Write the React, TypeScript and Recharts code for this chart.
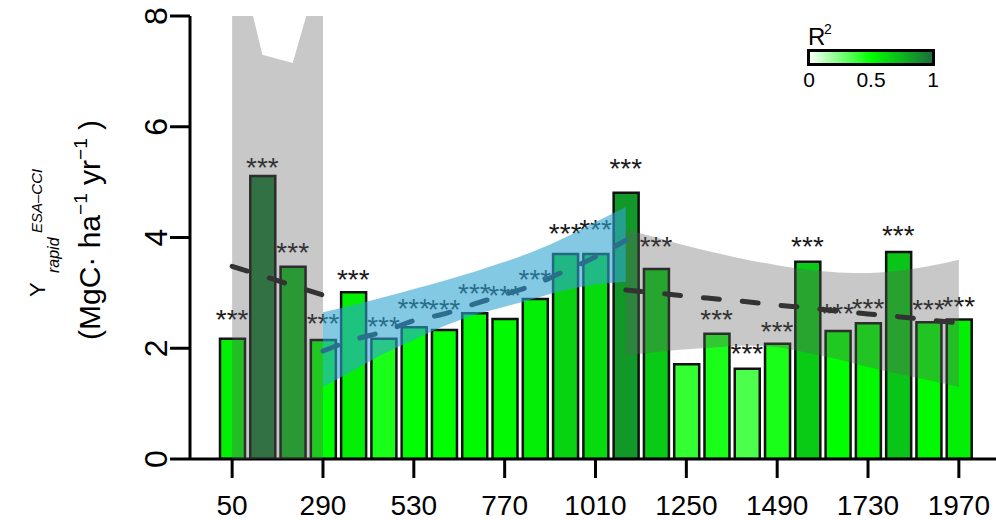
import React from 'react';
import { ComposedChart, Bar, Cell, Area, Line, Scatter, XAxis, YAxis } from 'recharts';

// stand age classes (yr)
const years = [50, 130, 210, 290, 370, 450, 530, 610, 690, 770, 850, 930, 1010, 1090, 1170, 1250, 1330, 1410, 1490, 1570, 1650, 1730, 1810, 1890, 1970];
// Y_rapid (MgC ha-1 yr-1)
const yRapid = [2.17, 5.11, 3.47, 2.15, 3.01, 2.17, 2.38, 2.33, 2.63, 2.53, 2.89, 3.7, 3.7, 4.81, 3.43, 1.71, 2.26, 1.63, 2.08, 3.56, 2.31, 2.45, 3.74, 2.47, 2.52];
// R2 of each fit (bar colour)
const r2 = [0.55, 0.95, 0.75, 0.5, 0.55, 0.45, 0.5, 0.5, 0.52, 0.52, 0.55, 0.65, 0.62, 0.85, 0.68, 0.4, 0.45, 0.35, 0.45, 0.68, 0.5, 0.52, 0.7, 0.52, 0.55];
// height of the *** marks (null = no mark)
const starY = [2.64, 5.38, 3.85, 2.56, 3.36, 2.51, 2.84, 2.82, 3.11, 3.07, 3.36, 4.19, 4.26, 5.36, 3.95, null, 2.64, 2.02, 2.42, 3.95, 2.74, 2.84, 4.15, 2.82, 2.87];

// early segment trend + CI
const earlyYears = [50, 130, 210, 290];
const earlyFit = [3.48, 3.31, 3.13, 2.96];
const earlyLo = [-1, -1, -1, -1];
const earlyHi = [9.55, 7.3, 7.15, 9.05];

// middle segment trend + CI (blue)
const midYears = [290, 370, 450, 530, 610, 690, 770, 850, 930, 1010, 1090];
const midFit = [1.95, 2.15, 2.3, 2.5, 2.62, 2.8, 2.97, 3.15, 3.4, 3.65, 3.95];
const midLo = [1.3, 1.6, 1.9, 2.15, 2.4, 2.6, 2.75, 2.9, 3.05, 3.15, 3.2];
const midHi = [2.65, 2.78, 2.92, 3.07, 3.22, 3.38, 3.56, 3.76, 4.0, 4.28, 4.55];

// late segment trend + CI
const lateYears = [1090, 1170, 1250, 1330, 1410, 1490, 1570, 1650, 1730, 1810, 1890, 1970];
const lateFit = [3.05, 3.0, 2.94, 2.89, 2.84, 2.78, 2.73, 2.67, 2.62, 2.57, 2.51, 2.46];
const lateLo = [1.88, 1.93, 1.98, 2.02, 2.05, 2.02, 1.92, 1.8, 1.66, 1.54, 1.42, 1.3];
const lateHi = [4.15, 4.0, 3.85, 3.72, 3.6, 3.5, 3.42, 3.37, 3.36, 3.4, 3.48, 3.6];

const yTicks = [0, 2, 4, 6, 8];
const legendTicks = ['0', '0.5', '1'];

const FONT = '"Liberation Sans", Arial, Helvetica, sans-serif';

const STOPS: [number, number[]][] = [
  [0, [255, 255, 255]],
  [0.5, [0, 255, 0]],
  [1, [26, 107, 58]],
];

const r2Color = (v: number) => {
  for (let i = 1; i < STOPS.length; i++) {
    const [p1, c1] = STOPS[i];
    const [p0, c0] = STOPS[i - 1];
    if (v <= p1) {
      const t = (v - p0) / (p1 - p0);
      const c = c0.map((a, k) => Math.round(a + (c1[k] - a) * t));
      return `rgb(${c[0]},${c[1]},${c[2]})`;
    }
  }
  const c = STOPS[STOPS.length - 1][1];
  return `rgb(${c[0]},${c[1]},${c[2]})`;
};

const rows = years.map((yr, i) => {
  const e = earlyYears.indexOf(yr);
  const m = midYears.indexOf(yr);
  const l = lateYears.indexOf(yr);
  return {
    year: String(yr),
    value: yRapid[i],
    r2: r2[i],
    star: starY[i],
    fitE: e >= 0 ? earlyFit[e] : null,
    bandE: e >= 0 ? [earlyLo[e], earlyHi[e]] : null,
    fitM: m >= 0 ? midFit[m] : null,
    bandM: m >= 0 ? [midLo[m], midHi[m]] : null,
    fitL: l >= 0 ? lateFit[l] : null,
    bandL: l >= 0 ? [lateLo[l], lateHi[l]] : null,
  };
});

const XTick = ({ x, y, payload }: any) => (
  <text x={x} y={y + 37} textAnchor="middle" fontSize={28} fontFamily={FONT} fill="#000">
    {payload.value}
  </text>
);

const YTick = ({ x, y, payload }: any) => (
  <text
    transform={`translate(${x},${y}) rotate(-90)`}
    textAnchor="middle"
    fontSize={32}
    fontFamily={FONT}
    fill="#000"
  >
    {payload.value}
  </text>
);

const StarMark = (props: any) => {
  const { cx, cy, payload } = props;
  if (payload == null || payload.star == null) return <g />;
  return (
    <text x={cx} y={cy + 16} textAnchor="middle" fontSize={28} fontFamily={FONT} fill="#1a1a1a">
      ***
    </text>
  );
};

const rot = (x: number, y: number) => `translate(${x},${y}) rotate(-90)`;

export default function App() {
  return (
    <div style={{ position: 'absolute', left: 0, top: 0, width: 996, height: 520, background: '#fff' }}>
      <ComposedChart
        width={996}
        height={520}
        data={rows}
        margin={{ top: 16, right: 0, bottom: 0, left: 0 }}
        barCategoryGap={0}
      >
        <XAxis
          dataKey="year"
          interval={2}
          padding={{ left: 27, right: 22 }}
          height={61}
          tickSize={19}
          tickMargin={0}
          axisLine={{ stroke: '#000', strokeWidth: 3 }}
          tickLine={{ stroke: '#000', strokeWidth: 3 }}
          tick={<XTick />}
        />
        <XAxis
          xAxisId="top"
          dataKey="year"
          orientation="top"
          height={0}
          tick={false}
          tickLine={false}
          axisLine={{ stroke: '#000', strokeWidth: 3 }}
        />
        <YAxis
          width={190}
          domain={[0, 8]}
          ticks={yTicks}
          allowDataOverflow
          tickSize={20}
          tickMargin={3}
          axisLine={{ stroke: '#000', strokeWidth: 3 }}
          tickLine={{ stroke: '#000', strokeWidth: 3 }}
          tick={<YTick />}
        />
        <Bar dataKey="value" barSize={25} stroke="#111" strokeWidth={2.5} isAnimationActive={false}>
          {rows.map((r, i) => (
            <Cell key={`bar-${i}`} fill={r2Color(r.r2)} />
          ))}
        </Bar>
        <Scatter dataKey="star" shape={<StarMark />} isAnimationActive={false} />
        <Area zIndex={650} dataKey="bandE" type="linear" fill="#626262" fillOpacity={0.35} stroke="none" isAnimationActive={false} />
        <Area zIndex={650} dataKey="bandL" type="monotone" fill="#626262" fillOpacity={0.35} stroke="none" isAnimationActive={false} />
        <Area zIndex={660} dataKey="bandM" type="monotone" fill="#32a5d2" fillOpacity={0.6} stroke="none" isAnimationActive={false} />
        <Line zIndex={700} dataKey="fitE" type="linear" stroke="#333" strokeWidth={5} strokeDasharray="16 23" strokeLinecap="round" dot={false} activeDot={false} isAnimationActive={false} />
        <Line zIndex={700} dataKey="fitL" type="monotone" stroke="#333" strokeWidth={5} strokeDasharray="16 23" strokeLinecap="round" dot={false} activeDot={false} isAnimationActive={false} />
        <Line zIndex={700} dataKey="fitM" type="monotone" stroke="#2d6d8d" strokeWidth={5} strokeDasharray="16 23" strokeLinecap="round" dot={false} activeDot={false} isAnimationActive={false} />
      </ComposedChart>

      <svg width={996} height={520} style={{ position: 'absolute', left: 0, top: 0, pointerEvents: 'none' }}>
        <defs>
          <linearGradient id="r2grad" x1="0" x2="1" y1="0" y2="0">
            {STOPS.map(([p, c]) => (
              <stop key={p} offset={p} stopColor={`rgb(${c[0]},${c[1]},${c[2]})`} />
            ))}
          </linearGradient>
        </defs>

        {/* y axis title */}
        <g fontFamily={FONT} fill="#000">
          <text transform={rot(45, 297)} fontSize={22}>Y</text>
          <text transform={rot(59, 273)} fontSize={16} fontStyle="italic">rapid</text>
          <text transform={rot(42, 233)} fontSize={15} fontStyle="italic">ESA–CCI</text>
          <text transform={rot(100, 340)} fontSize={30}>
            <tspan>(MgC· ha</tspan>
            <tspan fontSize={19} dy={-13}>−1</tspan>
            <tspan dy={13}> yr</tspan>
            <tspan fontSize={19} dy={-13}>−1</tspan>
            <tspan dy={13}> )</tspan>
          </text>
        </g>

        {/* R2 colour bar */}
        <g fontFamily={FONT} fill="#000">
          <text x={808} y={45} fontSize={24}>R</text>
          <text x={824} y={34} fontSize={14}>2</text>
          <rect x={808.5} y={50.5} width={125} height={14} fill="url(#r2grad)" stroke="#000" strokeWidth={3} />
          {legendTicks.map((t, i) => (
            <text key={t} x={809 + i * 62} y={87} fontSize={21} textAnchor="middle">
              {t}
            </text>
          ))}
        </g>
      </svg>
    </div>
  );
}
